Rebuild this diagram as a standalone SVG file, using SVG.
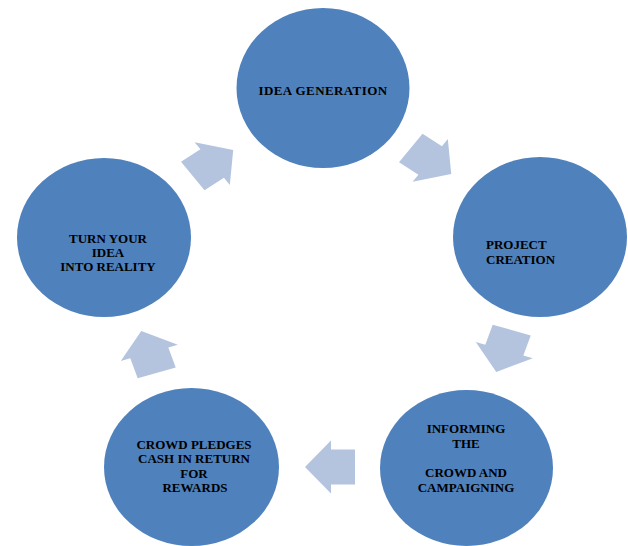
<svg xmlns="http://www.w3.org/2000/svg" width="628" height="546" viewBox="0 0 628 546">
<defs>
<style>
.node{fill:#4F81BD}
.arr{fill:#B4C4DE}
.t{font-family:"Liberation Serif","Times New Roman",serif;font-weight:bold;font-size:13px;fill:#000}
.c{text-anchor:middle}
</style>
<polygon id="ar" points="25,0 -1,-30 -1,-20 -25,-20 -25,20 -1,20 -1,30"/>
</defs>
<rect width="628" height="546" fill="#fff"/>
<g id="connectors" class="arr">
<use href="#ar" transform="translate(213,163) scale(1,0.88) rotate(-36)"/>
<use href="#ar" transform="translate(431,161) scale(1,0.88) rotate(36)"/>
<use href="#ar" transform="translate(504,351) scale(1,0.88) rotate(108)"/>
<use href="#ar" transform="translate(330,467) scale(1,0.88) rotate(180)"/>
<use href="#ar" transform="translate(149,352) scale(1,0.88) rotate(252)"/>
</g>
<g id="idea-generation">
<ellipse class="node" cx="323" cy="88" rx="86.5" ry="80"/>
<text class="t c" x="323" y="95" letter-spacing="0.4">IDEA GENERATION</text>
</g>
<g id="project-creation">
<ellipse class="node" cx="540" cy="237" rx="87" ry="80"/>
<text class="t" x="486" y="249">PROJECT</text>
<text class="t" x="486" y="263.5">CREATION</text>
</g>
<g id="informing">
<ellipse class="node" cx="466.5" cy="468" rx="86.5" ry="78"/>
<text class="t c" x="466" y="433">INFORMING</text>
<text class="t c" x="466" y="448">THE</text>
<text class="t c" x="466" y="477">CROWD AND</text>
<text class="t c" x="466" y="491.5">CAMPAIGNING</text>
</g>
<g id="crowd-pledges">
<ellipse class="node" cx="191.5" cy="467" rx="87.5" ry="79"/>
<text class="t c" x="194" y="448.5">CROWD PLEDGES</text>
<text class="t c" x="194" y="463">CASH IN RETURN</text>
<text class="t c" x="194" y="477.5">FOR</text>
<text class="t c" x="195" y="491.5">REWARDS</text>
</g>
<g id="turn-into-reality">
<ellipse class="node" cx="104" cy="237.5" rx="87" ry="79.5"/>
<text class="t c" x="108" y="242.5">TURN YOUR</text>
<text class="t c" x="108" y="257">IDEA</text>
<text class="t c" x="108" y="271">INTO REALITY</text>
</g>
</svg>
